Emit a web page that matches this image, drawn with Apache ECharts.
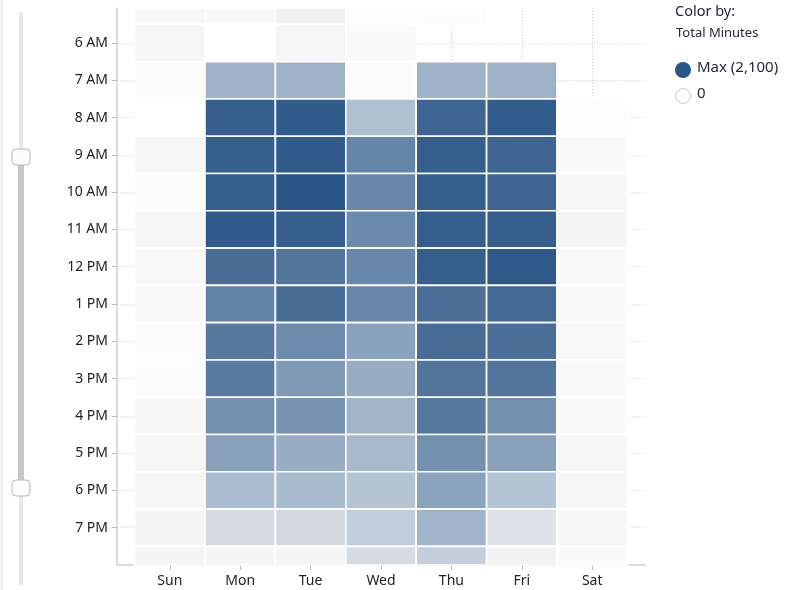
<!DOCTYPE html>
<html>
<head>
<meta charset="utf-8">
<script src="https://cdn.jsdelivr.net/npm/echarts@6/dist/echarts.min.js"></script>
<style>
html,body{margin:0;padding:0;background:#fff;}
#chart{width:805px;height:590px;}
</style>
</head>
<body>
<div id="chart"></div>
<script>
// Categories
const dayLabels = ['Sun', 'Mon', 'Tue', 'Wed', 'Thu', 'Fri', 'Sat'];
const hours = [5, 6, 7, 8, 9, 10, 11, 12, 13, 14, 15, 16, 17, 18, 19, 20];
const hourLabels = ['5 AM', '6 AM', '7 AM', '8 AM', '9 AM', '10 AM', '11 AM', '12 PM',
  '1 PM', '2 PM', '3 PM', '4 PM', '5 PM', '6 PM', '7 PM', '8 PM'];
const tickHours = [6, 7, 8, 9, 10, 11, 12, 13, 14, 15, 16, 17, 18, 19];

// Total minutes per hour (5 AM .. 8 PM), one array per day; null = no data
const sun = [110, 115, 35, 0, 125, 55, 125, 80, 80, 35, 35, 125, 125, 125, 135, 135];
const mon = [90, 0, 1080, 2000, 2000, 2010, 2040, 1850, 1610, 1720, 1700, 1470, 1290, 960, 490, 135];
const tue = [195, 115, 1080, 2040, 2040, 2100, 2000, 1750, 1850, 1520, 1360, 1420, 1150, 980, 540, 135];
const wed = [45, 70, 55, 910, 1580, 1560, 1530, 1560, 1570, 1270, 1150, 1060, 990, 860, 720, 500];
const thu = [45, null, 1080, 1930, 2010, 2010, 2010, 2000, 1820, 1850, 1750, 1720, 1470, 1260, 1070, 690];
const fri = [null, null, 1080, 2030, 1930, 1930, 2010, 2070, 1890, 1820, 1750, 1470, 1290, 860, 390, 180];
const sat = [null, null, null, 25, 70, 125, 135, 70, 70, 90, 70, 70, 125, 125, 125, 70];
const maxMinutes = 2100;

const byDay = [sun, mon, tue, wed, thu, fri, sat];
const cells = [];
byDay.forEach((arr, d) => {
  arr.forEach((v, h) => {
    if (v !== null) cells.push([d, hours[h], v]);
  });
});

const textFont = 'Noto Sans';
const chart = echarts.init(document.getElementById('chart'), null, { renderer: 'canvas' });

const option = {
  backgroundColor: '#ffffff',
  animation: false,
  grid: { left: 117, right: 160, top: 8, bottom: 25, containLabel: false },
  xAxis: {
    type: 'value',
    min: -0.75,
    max: 6.75,
    axisLine: { show: true, onZero: false, lineStyle: { color: '#d2d2d2', width: 1.5 } },
    axisTick: { show: true, length: 5, customValues: [0, 1, 2, 3, 4, 5, 6], lineStyle: { color: '#bdbdbd' } },
    axisLabel: {
      customValues: [0, 1, 2, 3, 4, 5, 6],
      formatter: v => dayLabels[Math.round(v)],
      color: '#222222', fontFamily: textFont, fontSize: 14, margin: 9
    },
    splitLine: { show: true, lineStyle: { color: '#cbcbcb', type: [1, 2], width: 1 } }
  },
  yAxis: {
    type: 'value',
    inverse: true,
    min: 5.06,
    max: 20,
    axisLine: { show: true, onZero: false, lineStyle: { color: '#d2d2d2', width: 1.5 } },
    axisTick: { show: true, length: 5, customValues: tickHours, lineStyle: { color: '#bdbdbd' } },
    axisLabel: {
      customValues: tickHours,
      formatter: v => hourLabels[hours.indexOf(Math.round(v))],
      color: '#222222', fontFamily: textFont, fontSize: 14, margin: 9
    },
    splitLine: { show: true, lineStyle: { color: '#cbcbcb', type: [1, 2], width: 1 } }
  },
  visualMap: {
    show: false,
    type: 'continuous',
    min: 0,
    max: maxMinutes,
    dimension: 2,
    seriesIndex: 0,
    inRange: {
      color: ['#ffffff', '#f2f2f2', '#e3e6e9', '#d3dae2', '#c3cedb', '#b3c3d3', '#a3b5c9',
        '#8fa6be', '#7b96b3', '#6786a9', '#53759c', '#3f6592', '#2a5686']
    }
  },
  series: [{
    type: 'custom',
    data: cells,
    encode: { x: 0, y: 1 },
    renderItem: function (params, api) {
      const x = api.value(0), y = api.value(1);
      const a = api.coord([x - 0.5, y - 0.5]);
      const b = api.coord([x + 0.5, y + 0.5]);
      const rect = {
        x: Math.min(a[0], b[0]), y: Math.min(a[1], b[1]),
        width: Math.abs(b[0] - a[0]), height: Math.abs(b[1] - a[1])
      };
      const cs = params.coordSys;
      const clipped = echarts.graphic.clipRectByRect(rect, { x: cs.x, y: cs.y, width: cs.width, height: cs.height });
      if (!clipped) return null;
      return {
        type: 'rect',
        shape: clipped,
        style: { fill: api.visual('color'), stroke: '#ffffff', lineWidth: 1.6 }
      };
    }
  }],
  graphic: [
    { type: 'rect', left: 0, top: 0, shape: { width: 3, height: 590 }, style: { fill: '#f1f1f1' } },
    // range slider (decoration)
    { type: 'rect', shape: { x: 19, y: 12, width: 4, height: 573 }, style: { fill: '#e8e8e8' } },
    { type: 'rect', shape: { x: 18, y: 157, width: 6, height: 331 }, style: { fill: '#c7c7c7' } },
    { type: 'rect', shape: { x: 12, y: 149, width: 18, height: 16, r: 4 }, style: { fill: '#fcfcfc', stroke: '#b4b4b4', lineWidth: 1 } },
    { type: 'rect', shape: { x: 12, y: 480, width: 18, height: 16, r: 4 }, style: { fill: '#fcfcfc', stroke: '#b4b4b4', lineWidth: 1 } },
    // colour legend
    { type: 'text', x: 675, y: 4, style: { text: 'Color by:', fill: '#26263a', font: '14.5px "Noto Sans"' } },
    { type: 'text', x: 676, y: 27, style: { text: 'Total Minutes', fill: '#26263a', font: '13px "Noto Sans"' } },
    { type: 'circle', shape: { cx: 683, cy: 70, r: 8 }, style: { fill: '#2a5686' } },
    { type: 'text', x: 697, y: 60, style: { text: 'Max (2,100)', fill: '#26263a', font: '15px "Noto Sans"' } },
    { type: 'circle', shape: { cx: 683, cy: 96, r: 7.5 }, style: { fill: '#ffffff', stroke: '#cccccc', lineWidth: 1 } },
    { type: 'text', x: 697, y: 86, style: { text: '0', fill: '#26263a', font: '15px "Noto Sans"' } }
  ]
};
chart.setOption(option);
</script>
</body>
</html>
